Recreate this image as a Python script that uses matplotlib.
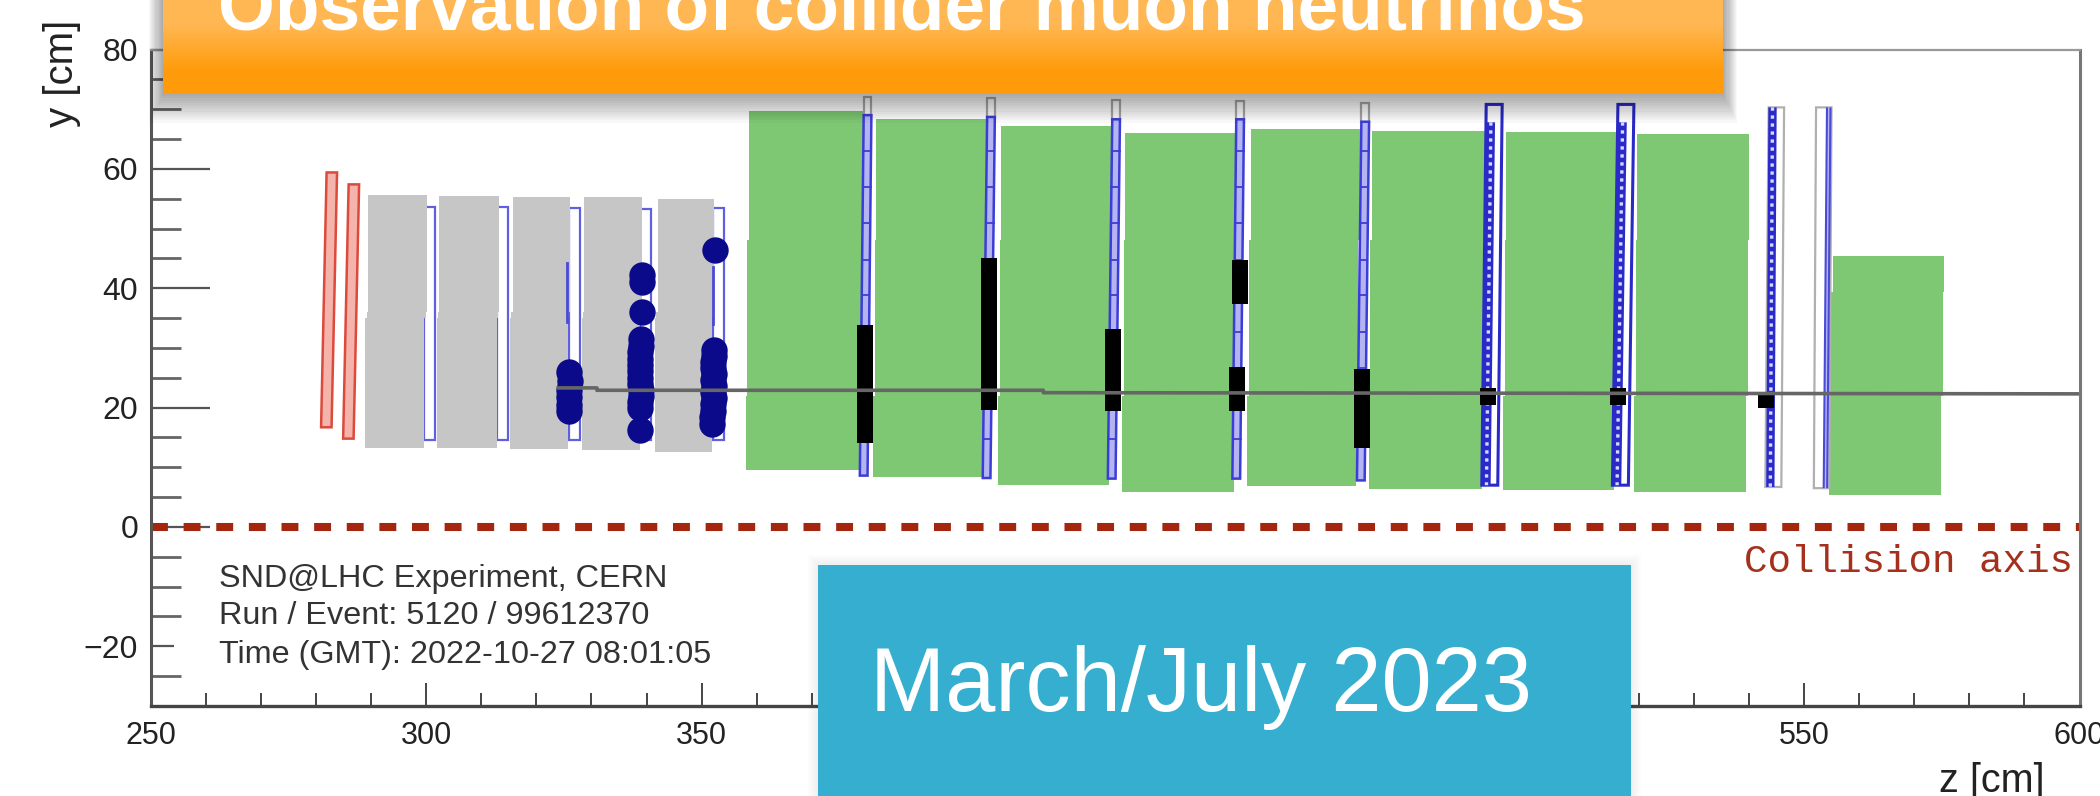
import numpy as np
import matplotlib
matplotlib.use('Agg')
import matplotlib.pyplot as plt
from matplotlib.patches import Polygon, Rectangle

# iron / target blocks: z0, z1, y top, y bottom
gray_z0 = [289.0, 302.0, 315.3, 328.3, 341.6]
gray_z1 = [299.7, 312.8, 325.8, 338.8, 351.9]
gray_top = [55.6, 55.5, 55.3, 55.3, 54.9]
gray_bot = [13.3, 13.2, 13.0, 12.9, 12.6]

green_z0 = [358.0, 381.1, 403.8, 426.3, 449.0, 471.0, 495.4, 519.2, 554.6]
green_z1 = [379.1, 401.2, 423.9, 446.6, 468.8, 491.5, 515.6, 539.5, 574.9]
green_top = [69.7, 68.4, 67.1, 66.0, 66.7, 66.3, 66.2, 65.9, 45.4]
green_bot = [9.6, 8.3, 7.1, 5.8, 6.8, 6.4, 6.2, 5.8, 5.3]

# veto planes
red_z = [281.9, 285.9]
red_top = [59.4, 57.4]
red_bot = [16.7, 14.8]

# scifi planes behind the gray blocks
scifi_z1 = [301.7, 314.8, 327.9, 340.8, 354.0]
scifi_top = [53.6, 53.6, 53.5, 53.3, 53.4]
scifi_bot = [14.5, 14.5, 14.5, 14.5, 14.5]
scifi_inner_z = [325.6, 352.0]
scifi_inner_lo = [34.3, 34.0]
scifi_inner_hi = [44.3, 43.5]

# muon system stations
st_z_top = [380.1, 402.5, 425.2, 447.7, 470.4]
st_z_bot = [379.4, 401.7, 424.4, 447.0, 469.6]
st_cap = [72.1, 71.8, 71.6, 71.3, 71.0]
st_top = [69.0, 68.7, 68.3, 68.3, 67.9]
st_bot = [8.6, 8.2, 8.1, 8.1, 7.8]
st_cells = [63, 57, 51, 44.7, 38.8, 32.7, 26.7, 20.7, 14.7]

fine_z_top = [493.8, 517.7]
fine_z_bot = [493.0, 516.7]
fine_top = [70.8, 70.8]
fine_bot = [7.0, 7.0]

# hits
hit_z_a = [326.0, 326.1, 326.0, 325.9, 326.0, 326.0]
hit_y_a = [25.9, 24.5, 23.0, 21.8, 20.5, 19.4]
hit_z_b = [339.2, 339.2, 339.1, 339.0, 339.0, 338.9, 338.9, 338.9, 338.9, 338.9, 338.9, 339.0, 339.0, 338.9, 338.9, 338.8]
hit_y_b = [42.3, 41.0, 36.0, 31.5, 30.4, 29.3, 28.2, 27.2, 26.1, 25.0, 24.0, 23.0, 22.0, 21.0, 20.0, 16.2]
hit_z_c = [352.4, 352.2, 352.2, 352.0, 352.1, 352.2, 352.1, 352.2, 352.1, 352.2, 352.1, 352.0, 351.9, 351.9]
hit_y_c = [46.4, 29.6, 28.6, 27.6, 26.6, 25.6, 24.6, 23.6, 22.6, 21.6, 20.6, 19.5, 18.4, 17.2]

# black hit bars: z centre, y low, y high
bar_z = [379.6, 402.1, 424.7, 447.6, 447.2, 469.8, 492.7, 516.2, 543.2]
bar_lo = [14.0, 19.6, 19.4, 37.3, 19.4, 13.2, 20.4, 20.4, 20.0]
bar_hi = [33.8, 45.1, 33.1, 44.8, 26.8, 26.5, 23.3, 23.3, 22.4]

track_z = [324, 331, 331, 412, 412, 600]
track_y = [23.3, 23.3, 22.9, 22.9, 22.5, 22.3]

axis_z = [250, 600]
axis_y = [0, 0]

x_major = [250, 300, 350, 400, 450, 500, 550, 600]
x_labels = ['250', '300', '350', '', '', '', '550', '600']
x_minor = [260, 270, 280, 290, 310, 320, 330, 340, 360, 370, 380, 390, 410, 420, 430, 440,
           460, 470, 480, 490, 510, 520, 530, 540, 560, 570, 580, 590]
y_major = [-20, 0, 20, 40, 60, 80]
y_minor = [-25, -15, -10, -5, 5, 10, 15, 25, 30, 35, 45, 50, 55, 65, 70, 75]
y_short = [-25, -20, -15, -10]

plt.rcParams['font.family'] = ['Liberation Sans', 'DejaVu Sans']

fig = plt.figure(figsize=(21, 7.96), dpi=100, facecolor='white')
ax = fig.add_axes([150.5 / 2100, 90 / 796, 1929 / 2100, 656.5 / 796])
ax.set_xlim(250, 600)
ax.set_ylim(-30, 80)


def block(z0, z1, top, bot, color, step=0.6, lev=(48, 22), **kw):
    # blocks are a bit staggered, upper layers sit further downstream
    s = [step, step / 2, 0]
    pts = [(z0 + s[0], top), (z1 + s[0], top), (z1 + s[0], lev[0]), (z1 + s[1], lev[0]),
           (z1 + s[1], lev[1]), (z1, lev[1]), (z1, bot), (z0, bot), (z0, lev[1]),
           (z0 + s[1], lev[1]), (z0 + s[1], lev[0]), (z0 + s[0], lev[0])]
    ax.add_patch(Polygon(pts, closed=True, facecolor=color, edgecolor='none', **kw))


def strip(zt, zb, w, top, bot, fc, ec, lw, zorder=3):
    pts = [(zt - w / 2, top), (zt + w / 2, top), (zb + w / 2, bot), (zb - w / 2, bot)]
    ax.add_patch(Polygon(pts, closed=True, facecolor=fc, edgecolor=ec, lw=lw, zorder=zorder))


def dense(zt, zb, top, bot):
    ax.plot([zt, zb], [top, bot], color='#2a2ac8', lw=6, solid_capstyle='butt', zorder=3)
    ax.plot([zt, zb], [top, bot], color='#d8d8ff', lw=2.4, ls=(0, (1, 1.4)), zorder=3)


for z1, t, b in zip(scifi_z1, scifi_top, scifi_bot):
    ax.add_patch(Rectangle((z1 - 2.0, b), 2.0, t - b, facecolor='white',
                           edgecolor='#5f5fe0', lw=1.6, zorder=1))
for z0, z1, t, b in zip(gray_z0, gray_z1, gray_top, gray_bot):
    block(z0, z1, t, b, '#c6c6c6', step=0.4, lev=(36, 35), zorder=2)
for z, lo, hi in zip(scifi_inner_z, scifi_inner_lo, scifi_inner_hi):
    ax.plot([z, z], [lo, hi], color='#4a4ad8', lw=2, zorder=3)
for z0, z1, t, b in zip(green_z0, green_z1, green_top, green_bot):
    block(z0, z1, t, b, '#7ec873', lev=(min(48, t - 6), 22), zorder=2)

for z, t, b in zip(red_z, red_top, red_bot):
    strip(z + 1.0, z, 1.9, t, b, '#f4b3ab', '#dc4a3c', 1.8)

for zt, zb, c, t, b in zip(st_z_top, st_z_bot, st_cap, st_top, st_bot):
    ax.add_patch(Rectangle((zt - 0.7, t), 1.4, c - t, facecolor='white',
                           edgecolor='#a8a8a8', lw=1.6, zorder=3))
    strip(zt, zb, 1.4, t, b, '#b4b4f0', '#3c3cd8', 1.8)
    for y in st_cells:
        z = zb + (zt - zb) * (y - b) / (t - b)
        ax.plot([z - 0.7, z + 0.7], [y, y], color='#3c3cd8', lw=1.3, zorder=3)

for zt, zb, t, b in zip(fine_z_top, fine_z_bot, fine_top, fine_bot):
    strip(zt, zb, 2.9, t, b, 'white', '#2a2ac8', 2.2)
    dense(zt - 0.6, zb - 0.6, t - 3, b)

# last two planes: half gray, half blue
ax.add_patch(Polygon([(543.6, 70.3), (546.4, 70.3), (545.9, 6.7), (543.0, 6.7)], closed=True,
                     facecolor='white', edgecolor='#b0b0b0', lw=1.6, zorder=3))
dense(544.3, 543.9, 70.3, 6.7)
ax.add_patch(Polygon([(552.2, 70.3), (555.0, 70.3), (554.6, 6.5), (551.8, 6.5)], closed=True,
                     facecolor='white', edgecolor='#b0b0b0', lw=1.6, zorder=3))
ax.plot([554.5, 553.9], [70.3, 6.5], color='#4a4ad8', lw=4, solid_capstyle='butt', zorder=3)
ax.plot([554.5, 553.9], [70.3, 6.5], color='#b8b8f0', lw=1, zorder=3)

ax.plot(hit_z_a, hit_y_a, 'o', color='#0a0a8a', ms=19, mec='none', zorder=4)
ax.plot(hit_z_b, hit_y_b, 'o', color='#0a0a8a', ms=19, mec='none', zorder=4)
ax.plot(hit_z_c, hit_y_c, 'o', color='#0a0a8a', ms=19, mec='none', zorder=4)

for z, lo, hi in zip(bar_z, bar_lo, bar_hi):
    ax.add_patch(Rectangle((z - 1.45, lo), 2.9, hi - lo, facecolor='black', edgecolor='none', zorder=4))

ax.plot(track_z, track_y, color='#666666', lw=2.6, zorder=5)
ax.plot(axis_z, axis_y, color='#a5260f', lw=5.8, ls=(0, (2.1, 1.95)),
        dash_capstyle='butt', zorder=5, clip_on=True)

ax.text(598.9, -7.6, 'Collision axis', family='Liberation Mono', fontsize=28.3,
        color='#a5301c', ha='right', va='baseline')
ax.text(262.4, -10, 'SND@LHC Experiment, CERN', fontsize=23.3, color='#333333', va='baseline')
ax.text(262.4, -16.3, 'Run / Event: 5120 / 99612370', fontsize=23.3, color='#333333', va='baseline')
ax.text(262.4, -22.8, 'Time (GMT): 2022-10-27 08:01:05', fontsize=23.3, color='#333333', va='baseline')

ax.set_xticks(x_major)
ax.set_xticks(x_minor, minor=True)
ax.set_yticks(y_major)
ax.set_yticks(y_minor, minor=True)
ax.set_xticklabels(x_labels)
ax.set_yticklabels(['\u221220' if v < 0 else str(v) for v in y_major])
ax.tick_params(axis='x', which='major', direction='in', length=16.5, width=1.4, color='#444444',
               labelsize=22, pad=11, labelcolor='#222222')
ax.tick_params(axis='x', which='minor', direction='in', length=9.4, width=1.4, color='#444444')
ax.tick_params(axis='y', which='major', direction='in', length=42.5, width=1.6, color='#555555',
               labelsize=23, pad=9, labelcolor='#222222')
ax.tick_params(axis='y', which='minor', direction='in', length=21.6, width=2.0, color='#666666')
for t in ax.yaxis.get_major_ticks() + ax.yaxis.get_minor_ticks():
    if t.get_loc() in y_short:
        t.tick1line.set_markersize(16.5)

for side, c, w in [('left', '#555555', 2.2), ('bottom', '#444444', 2.4), ('right', '#777777', 2.2), ('top', '#999999', 1.6)]:
    ax.spines[side].set_color(c)
    ax.spines[side].set_linewidth(w)
    ax.spines[side].set_zorder(6)

ax.set_xlabel('z [cm]', fontsize=28.5, color='#222222', ha='right', va='top')
ax.xaxis.set_label_coords((2045 - 150.5) / 1929, -(762 - 706) / 656.5)
ax.set_ylabel('y [cm]', fontsize=29, color='#222222', ha='right', va='center')
ax.yaxis.set_label_coords(-(150.5 - 62) / 1929, (706 - 20) / 656.5)

# slide overlays, in pixels of the figure
ov = fig.add_axes([0, 0, 1, 1], zorder=10)
ov.axis('off')
ov.patch.set_alpha(0)

for i in range(14):
    d = i * 2.2
    ov.add_patch(Rectangle((163 - d * 0.5, 0), 1560 + d, 94 + d, facecolor='black', alpha=0.028, edgecolor='none'))
for i in range(6):
    d = i * 2
    ov.add_patch(Rectangle((818 - d, 565 - d), 813 + 2 * d, 231 + d, facecolor='black', alpha=0.012, edgecolor='none'))

grad = np.array([[1.0, 0.72, 0.33], [1.0, 0.61, 0.04]]).reshape(2, 1, 3)
ov.imshow(grad, extent=(163, 1723, 94, 0), aspect='auto', interpolation='bilinear', zorder=2)
ov.set_xlim(0, 2100)
ov.set_ylim(796, 0)
ov.text(218, 29, 'Observation of collider muon neutrinos', color='white', fontsize=52.6, fontweight='bold',
        family=['Liberation Sans Narrow', 'Liberation Sans'], va='baseline', zorder=3)

ov.add_patch(Rectangle((818, 565), 813, 231, facecolor='#36aecf', edgecolor='none', zorder=2))
ov.text(870, 710.7, 'March/July 2023', color='white', fontsize=65, va='baseline', zorder=3)

fig.savefig('out.png', dpi=100)
